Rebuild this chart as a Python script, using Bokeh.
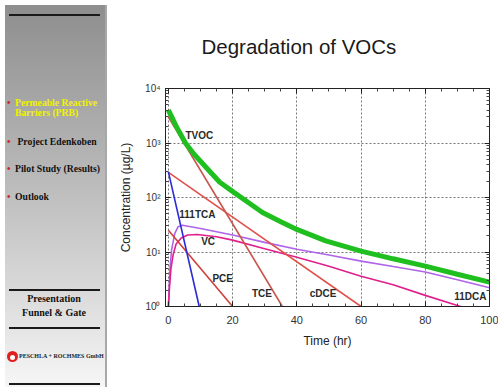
from bokeh.plotting import figure
from bokeh.layouts import row
from bokeh.models import Range1d, FixedTicker, LinearAxis, LogAxis, Title, Div, CustomJSTickFormatter
from bokeh.core.properties import value
from bokeh.embed import file_html
from bokeh.resources import INLINE

# ---------------- data ----------------
time_tvoc = [0, 2.5, 5.3, 8, 12.7, 16, 20.5, 25, 29.3, 35, 40, 49, 60, 70, 80, 90, 100]
tvoc = [4000, 2000, 1000, 620, 310, 190, 123, 80, 53, 36, 26, 16, 10.4, 7.5, 5.5, 3.9, 2.8]

time_tce = [0, 35.5]
tce = [3000, 1]

time_cdce = [0, 60]
cdce = [290, 1]

time_pce = [0, 20]
pce = [25, 1]

time_tca = [0, 9.6]
tca111 = [295, 1]

time_vc = [0, 0.5, 1, 2, 3, 4.4, 10, 20, 30, 40, 50, 60, 70, 80, 90, 100]
vc = [1, 5, 11, 22, 29, 31, 27, 20.5, 15, 11.2, 8.8, 6.8, 5.4, 4.3, 3.1, 2.2]

time_dca = [0, 0.4, 0.8, 1.5, 2.4, 4, 6, 9, 15, 20, 30, 40, 50, 60, 70, 80, 91]
dca11 = [1, 2.5, 5, 9, 14, 18, 20.5, 21, 19, 16.5, 11.5, 8, 5.5, 3.6, 2.5, 1.6, 1]

label_names = ["TVOC", "111TCA", "VC", "PCE", "TCE", "cDCE", "11DCA"]
label_x = [5.3, 3.4, 10.2, 13.7, 26, 44, 89]
label_y = [1380, 49, 15.3, 3.2, 1.76, 1.7, 1.55]

x_ticks = [0, 20, 40, 60, 80, 100]
y_ticks = [1, 10, 100, 1000, 10000]
y_tick_labels = ["10\u2070", "10\u00b9", "10\u00b2", "10\u00b3", "10\u2074"]

menu_items = ["Permeable Reactive<br>Barriers (PRB)", "&nbsp;Project Edenkoben",
              "Pilot Study (Results)", "Outlook"]
menu_colors = ["#f2f200", "#111111", "#111111", "#111111"]
footer_items = ["Presentation", "Funnel &amp; Gate"]
logo_text = "PESCHLA + ROCHMES GmbH"

# ---------------- sidebar (HTML) ----------------
menu_top = [93, 132, 159, 187]
parts = []
parts.append('<div style="position:relative;width:102px;height:382px;overflow:hidden;'
             'background:linear-gradient(to bottom,#8e8e8e 0%,#b4b4b4 40%,#dadada 75%,#f6f6f6 100%);'
             "font-family:'Liberation Serif',serif;font-weight:bold;border-right:2px solid #a8a8a8;box-sizing:border-box;\">")
for yy in [9, 284, 322, 378]:
    parts.append(f'<div style="position:absolute;left:4px;top:{yy}px;width:91px;height:2px;background:#1a1a1a"></div>')
for t, c, yy in zip(menu_items, menu_colors, menu_top):
    parts.append(f'<div style="position:absolute;left:2px;top:{yy}px;font-size:10px;line-height:10px;color:#d42020">&bull;</div>')
    parts.append(f'<div style="position:absolute;left:10px;top:{yy}px;font-size:9.7px;line-height:10px;color:{c};white-space:nowrap">{t}</div>')
for t, yy in zip(footer_items, [288, 302]):
    parts.append(f'<div style="position:absolute;left:0px;width:98px;text-align:center;top:{yy}px;font-size:10px;line-height:11px;color:#111111">{t}</div>')
parts.append('<div style="position:absolute;left:2px;top:346px;width:11px;height:11px;border-radius:50%;background:#e02020"></div>')
parts.append('<div style="position:absolute;left:5px;top:350px;width:5px;height:5px;border-radius:50%;background:#ffffff"></div>')
parts.append(f'<div style="position:absolute;left:14px;top:348px;font-size:6px;line-height:7px;color:#222222;white-space:nowrap">{logo_text}</div>')
parts.append('</div>')
side = Div(text="".join(parts), width=102, height=382)

# ---------------- chart ----------------
p = figure(frame_width=324, frame_height=218, y_axis_type="log",
           x_range=Range1d(-0.9, 100), y_range=Range1d(1, 10000),
           output_backend="svg", toolbar_location=None,
           min_border_left=53, min_border_right=9, min_border_top=88, min_border_bottom=72)
p.background_fill_color = "white"
p.border_fill_color = "white"
p.outline_line_color = "#222222"
p.outline_line_width = 1

minor_x = [v for v in range(5, 100, 5) if v % 20 != 0]
minor_y = [m * 10 ** d for d in range(4) for m in range(2, 10)]

def style_axis(ax):
    ax.major_tick_in = 5
    ax.major_tick_out = 0
    ax.minor_tick_in = 3
    ax.minor_tick_out = 0
    ax.axis_line_color = "#222222"
    ax.major_tick_line_color = "#222222"
    ax.minor_tick_line_color = "#444444"

xa = p.xaxis[0]
xa.ticker = FixedTicker(ticks=x_ticks, minor_ticks=minor_x)
style_axis(xa)
xa.major_label_text_font = "Liberation Sans"
xa.major_label_text_font_size = "11px"
xa.major_label_text_color = "#333333"
xa.major_label_standoff = 9
xa.axis_label = "Time (hr)"
xa.axis_label_text_font = "Liberation Sans"
xa.axis_label_text_font_style = "normal"
xa.axis_label_text_font_size = "12px"
xa.axis_label_text_color = "#222222"
xa.axis_label_standoff = 7

ya = p.yaxis[0]
ya.ticker = FixedTicker(ticks=y_ticks, minor_ticks=minor_y)
style_axis(ya)
ya.major_label_overrides = {t: lab for t, lab in zip(y_ticks, y_tick_labels)}
ya.major_label_text_font = "Liberation Sans"
ya.major_label_text_font_size = "10px"
ya.major_label_text_color = "#333333"
ya.major_label_standoff = 5
ya.axis_label = "Concentration (\u00b5g/L)"
ya.axis_label_text_font = "Liberation Sans"
ya.axis_label_text_font_style = "normal"
ya.axis_label_text_font_size = "12px"
ya.axis_label_text_color = "#222222"
ya.axis_label_standoff = 9

blank = CustomJSTickFormatter(code="return ''")
top_ax = LinearAxis(ticker=FixedTicker(ticks=x_ticks, minor_ticks=minor_x), formatter=blank,
                    major_label_standoff=0)
style_axis(top_ax)
p.add_layout(top_ax, "above")
right_ax = LogAxis(ticker=FixedTicker(ticks=y_ticks, minor_ticks=minor_y), formatter=blank,
                   major_label_standoff=0)
style_axis(right_ax)
p.add_layout(right_ax, "right")

p.xgrid.ticker = FixedTicker(ticks=x_ticks)
p.ygrid.ticker = FixedTicker(ticks=y_ticks)
p.grid.grid_line_color = "#555555"
p.grid.grid_line_dash = "2 2"
p.grid.grid_line_alpha = 0.8

p.add_layout(Title(text="Degradation of VOCs", align="left", offset=36, standoff=60,
                   vertical_align="middle",
                   text_font="Liberation Sans", text_font_size="20.5px",
                   text_font_style="normal", text_color="#1a1a1a"), "above")

p.line(time_vc, vc, line_color="#b064e8", line_width=1.6)
p.line(time_dca, dca11, line_color="#e0208c", line_width=1.6)
p.line(time_pce, pce, line_color="#d0403a", line_width=1.6)
p.line(time_cdce, cdce, line_color="#e0504a", line_width=1.6)
p.line(time_tce, tce, line_color="#c8574f", line_width=1.6)
p.line(time_tca, tca111, line_color="#2b2bd8", line_width=1.6)
p.line(time_tvoc, tvoc, line_color="#1fbf1f", line_width=5)

p.text(x=label_x, y=label_y, text=label_names, text_color="#2a2a2a",
       text_font=value("Liberation Sans"), text_font_style="bold",
       text_font_size="10px", text_baseline="middle")

layout = row(side, p)
open("out.html", "w").write(file_html(layout, INLINE))
